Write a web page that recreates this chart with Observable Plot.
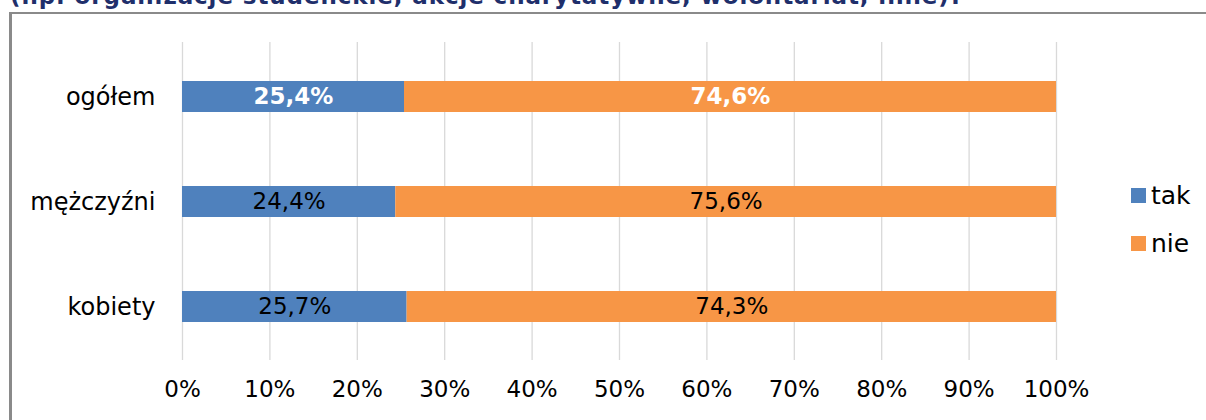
<!DOCTYPE html>
<html><head><meta charset="utf-8">
<script src="https://cdn.jsdelivr.net/npm/d3@7"></script>
<script src="https://cdn.jsdelivr.net/npm/@observablehq/plot@0.6"></script>
<style>
body{margin:0;background:#fff;}
#wrap{position:relative;width:1206px;height:420px;overflow:hidden;font-family:"DejaVu Sans",sans-serif;}
#title{position:absolute;left:10px;top:-17px;font-weight:bold;font-size:23px;line-height:26px;color:#1f2f6b;white-space:nowrap;letter-spacing:0.9px;}
#frame{position:absolute;left:9px;top:12px;width:1300px;height:500px;border-left:3px solid #8a8a8a;border-top:2px solid #8a8a8a;}
#chart{position:absolute;left:0;top:0;}
.leg{position:absolute;left:1131px;font-size:25px;color:#000;display:flex;align-items:center;}
.leg span.sw{display:inline-block;width:15px;height:15px;margin-right:5px;}
</style></head>
<body><div id="wrap">
<div id="title">(np. organizacje studenckie, akcje charytatywne, wolontariat, inne)?</div>
<div id="frame"></div>
<div id="chart"></div>
<div id="legend"></div>
</div>
<script>
const categories = ["ogółem", "mężczyźni", "kobiety"];
const answers = ["tak", "nie"];
const takValues = [25.4, 24.4, 25.7];
const nieValues = [74.6, 75.6, 74.3];
const ticks = [0, 10, 20, 30, 40, 50, 60, 70, 80, 90, 100];
const colors = ["#4F81BD", "#F79646"];

const data = categories.flatMap((c, i) => [
  {category: c, answer: "tak", value: takValues[i]},
  {category: c, answer: "nie", value: nieValues[i]}
]);
const fmt = v => v.toFixed(1).replace(".", ",") + "%";
const stackOpts = {x: "value", y: "category", z: "answer", text: d => fmt(d.value)};

const plot = Plot.plot({
  width: 1206, height: 420,
  marginLeft: 182, marginRight: 150, marginTop: 42, marginBottom: 60,
  style: {fontFamily: "DejaVu Sans", fontSize: "23px", background: "transparent", color: "#000"},
  x: {domain: [0, 100]},
  y: {domain: categories, padding: 0.706, paddingOuter: 0.365},
  color: {domain: answers, range: colors},
  marks: [
    Plot.ruleX(ticks, {stroke: "#d9d9d9", strokeWidth: 1.3}),
    Plot.barX(data, Plot.stackX({x: "value", y: "category", fill: "answer", z: "answer"})),
    Plot.text(data, Plot.stackX({...stackOpts,
      filter: d => d.category === "ogółem",
      fill: "#fff", fontWeight: "bold", fontSize: 23})),
    Plot.text(data, Plot.stackX({...stackOpts,
      filter: d => d.category !== "ogółem",
      fill: "#000", fontSize: 23})),
    Plot.axisX(ticks, {tickFormat: d => d + "%", tickSize: 0, tickPadding: 20, fontSize: 23, label: null}),
    Plot.axisY({tickSize: 0, tickPadding: 27, fontSize: 24, label: null})
  ]
});
document.getElementById("chart").appendChild(plot);

const legend = document.getElementById("legend");
answers.forEach((a, i) => {
  const el = document.createElement("div");
  el.className = "leg";
  el.style.top = (181 + i * 48) + "px";
  el.innerHTML = `<span class="sw" style="background:${colors[i]}"></span>${a}`;
  legend.appendChild(el);
});
</script>
</body></html>
